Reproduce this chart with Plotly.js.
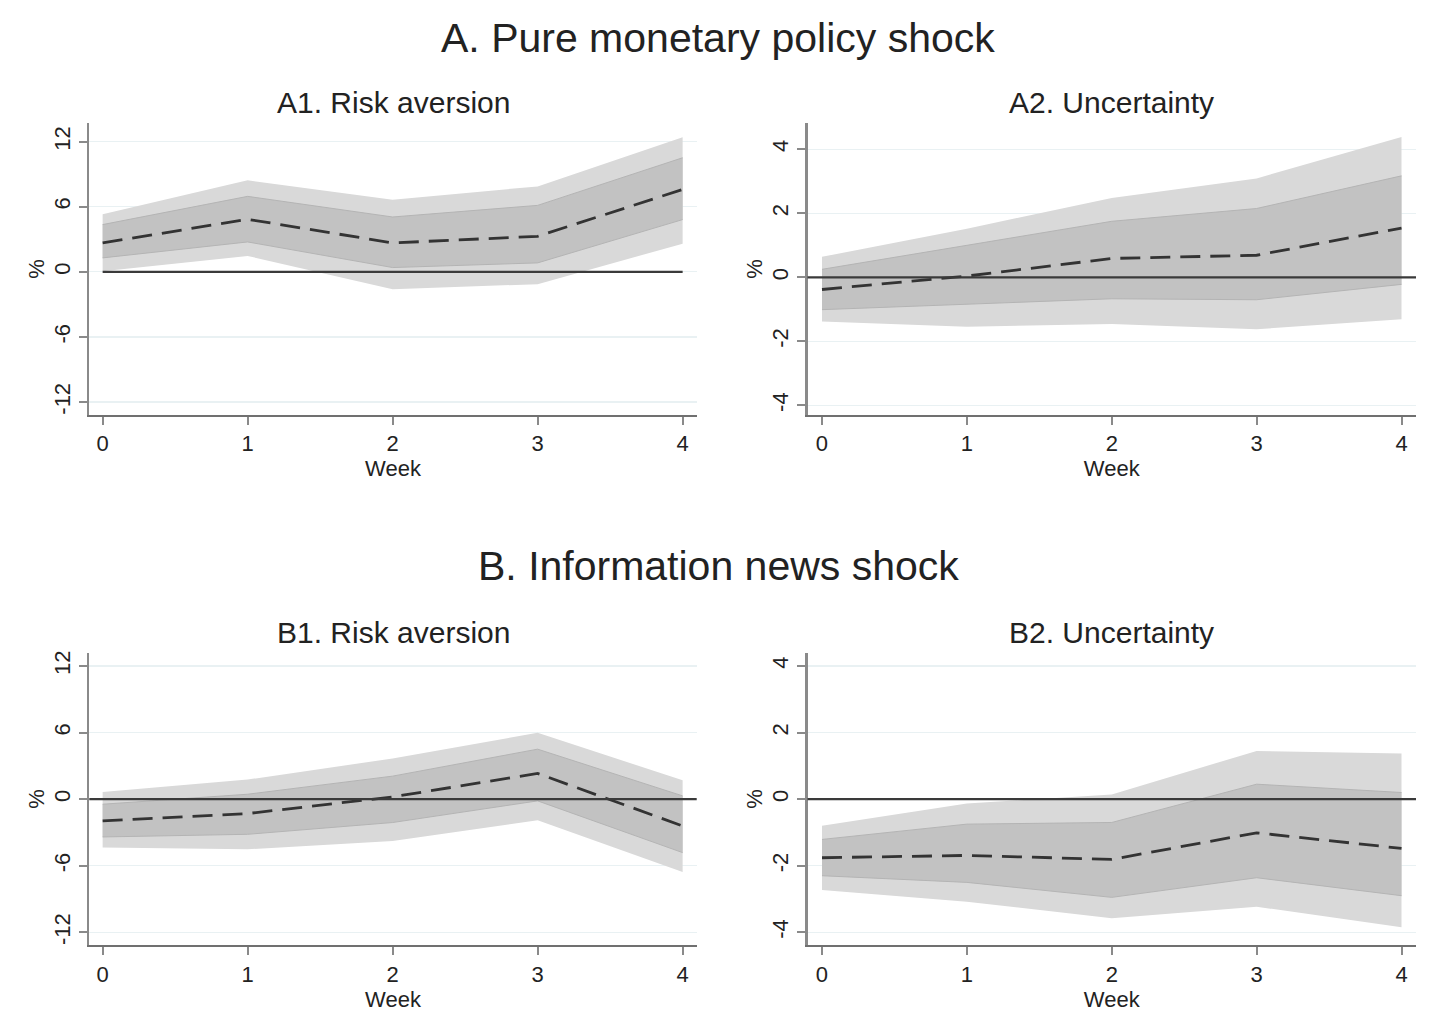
<!DOCTYPE html>
<html>
<head>
<meta charset="utf-8">
<script src="https://cdn.plot.ly/plotly-3.0.1.min.js"></script>
<style>
html,body{margin:0;padding:0;background:#fff;}
#chart{width:1452px;height:1026px;}
</style>
</head>
<body>
<div id="chart"></div>
<script>
// ---- Data ----
const weeks = [0, 1, 2, 3, 4];

// A1. Risk aversion (pure monetary policy shock)
const a1Mean    = [2.67, 4.85, 2.67, 3.28, 7.60];
const a1InnerHi = [4.36, 6.96, 5.06, 6.13, 10.52];
const a1InnerLo = [1.29, 2.76, 0.40, 0.83, 4.82];
const a1OuterHi = [5.31, 8.44, 6.66, 7.88, 12.42];
const a1OuterLo = [0.05, 1.47, -1.60, -1.13, 2.60];

// A2. Uncertainty (pure monetary policy shock)
const a2Mean    = [-0.38, 0.04, 0.59, 0.69, 1.54];
const a2InnerHi = [0.25, 1.01, 1.75, 2.15, 3.17];
const a2InnerLo = [-1.01, -0.83, -0.67, -0.70, -0.22];
const a2OuterHi = [0.64, 1.52, 2.48, 3.09, 4.38];
const a2OuterLo = [-1.38, -1.54, -1.46, -1.62, -1.31];

// B1. Risk aversion (information news shock)
const b1Mean    = [-1.95, -1.29, 0.21, 2.32, -2.41];
const b1InnerHi = [-0.45, 0.45, 2.08, 4.51, 0.30];
const b1InnerLo = [-3.40, -3.16, -2.10, -0.15, -4.81];
const b1OuterHi = [0.66, 1.77, 3.67, 5.98, 1.71];
const b1OuterLo = [-4.36, -4.51, -3.76, -1.89, -6.56];

// B2. Uncertainty (information news shock)
const b2Mean    = [-1.76, -1.69, -1.81, -1.01, -1.48];
const b2InnerHi = [-1.21, -0.75, -0.70, 0.45, 0.20];
const b2InnerLo = [-2.30, -2.50, -2.95, -2.36, -2.90];
const b2OuterHi = [-0.80, -0.13, 0.14, 1.45, 1.37];
const b2OuterLo = [-2.73, -3.08, -3.58, -3.23, -3.85];

const riskTicks = [-12, -6, 0, 6, 12];
const uncTicks  = [-4, -2, 0, 2, 4];

const mainTitles = ["A. Pure monetary policy shock", "B. Information news shock"];
const subTitles  = ["A1. Risk aversion", "A2. Uncertainty", "B1. Risk aversion", "B2. Uncertainty"];
const xTitle = "Week";
const yTitle = "%";

// ---- Styling ----
const FONT = "Liberation Sans, Arial, Helvetica, sans-serif";
const OUTER = "#d9d9d9";
const INNER = "#c2c2c2";

const panels = [
  {ax: "", mean: a1Mean, ih: a1InnerHi, il: a1InnerLo, oh: a1OuterHi, ol: a1OuterLo},
  {ax: "2", mean: a2Mean, ih: a2InnerHi, il: a2InnerLo, oh: a2OuterHi, ol: a2OuterLo},
  {ax: "3", mean: b1Mean, ih: b1InnerHi, il: b1InnerLo, oh: b1OuterHi, ol: b1OuterLo},
  {ax: "4", mean: b2Mean, ih: b2InnerHi, il: b2InnerLo, oh: b2OuterHi, ol: b2OuterLo}
];

const traces = [];
panels.forEach((p, i) => {
  const xa = "x" + p.ax, ya = "y" + p.ax;
  traces.push({x: weeks, y: p.oh, xaxis: xa, yaxis: ya, mode: "lines", line: {width: 0, color: OUTER}, hoverinfo: "skip", showlegend: false});
  traces.push({x: weeks, y: p.ol, xaxis: xa, yaxis: ya, mode: "lines", line: {width: 0, color: OUTER}, fill: "tonexty", fillcolor: OUTER, hoverinfo: "skip", showlegend: false});
  traces.push({x: weeks, y: p.ih, xaxis: xa, yaxis: ya, mode: "lines", line: {width: 1, color: "#b4b4b4"}, hoverinfo: "skip", showlegend: false});
  traces.push({x: weeks, y: p.il, xaxis: xa, yaxis: ya, mode: "lines", line: {width: 1, color: "#b4b4b4"}, fill: "tonexty", fillcolor: INNER, hoverinfo: "skip", showlegend: false});
  if (i === 0) {
    traces.push({x: weeks, y: weeks.map(() => 0), xaxis: xa, yaxis: ya, mode: "lines", line: {width: 2.4, color: "#3a3a3a"}, hoverinfo: "skip", showlegend: false});
  }
  traces.push({x: weeks, y: p.mean, xaxis: xa, yaxis: ya, mode: "lines", line: {width: 2.8, color: "#333333", dash: "20px,10px"}, showlegend: false});
});

function xAxis(domain, range, anchor) {
  return {
    domain: domain, range: range, anchor: anchor,
    tickmode: "array", tickvals: weeks, ticktext: weeks.map(String),
    ticks: "outside", ticklen: 8, tickwidth: 2, tickcolor: "#8a8a8a",
    showline: true, linecolor: "#707070", linewidth: 2,
    showgrid: false, zeroline: false,
    tickfont: {family: FONT, size: 22, color: "#222"},
    title: {text: xTitle, font: {family: FONT, size: 22, color: "#222"}, standoff: 2}
  };
}
function yAxis(domain, range, anchor, ticks) {
  return {
    domain: domain, range: range, anchor: anchor,
    tickmode: "array", tickvals: ticks, ticktext: ticks.map(String),
    tickangle: -90,
    ticks: "outside", ticklen: 8, tickwidth: 2, tickcolor: "#8a8a8a",
    showline: true, linecolor: "#8a8a8a", linewidth: 2.5,
    showgrid: true, gridcolor: "#e9f1f3", gridwidth: 1.2, zeroline: false,
    tickfont: {family: FONT, size: 22, color: "#222"},
    title: {text: yTitle, font: {family: FONT, size: 22, color: "#222"}, standoff: 0}
  };
}

const W = 1452, H = 1026;
const xdL = [89.3 / W, 696.7 / W];
const xdR = [807.5 / W, 1416 / W];
const ydA = [1 - 415 / H, 1 - 122.7 / H];
const ydB = [1 - 945.3 / H, 1 - 652.7 / H];

const zeroShape = (ax) => ({type: "line", xref: "x" + ax + " domain", yref: "y" + ax, x0: 0, x1: 1, y0: 0, y1: 0, line: {color: "#3a3a3a", width: 2.2}, layer: "above"});

const layout = {
  width: W, height: H,
  margin: {l: 0, r: 0, t: 0, b: 0},
  paper_bgcolor: "#fff", plot_bgcolor: "#fff",
  showlegend: false,
  xaxis:  xAxis(xdL, [-0.092, 4.097], "y"),
  yaxis:  yAxis(ydA, [-13.19, 13.75], "x", riskTicks),
  xaxis2: xAxis(xdR, [-0.1, 4.1], "y2"),
  yaxis2: yAxis(ydA, [-4.3, 4.83], "x2", uncTicks),
  xaxis3: xAxis(xdL, [-0.092, 4.097], "y3"),
  yaxis3: yAxis(ydB, [-13.16, 13.2], "x3", riskTicks),
  xaxis4: xAxis(xdR, [-0.1, 4.1], "y4"),
  yaxis4: yAxis(ydB, [-4.39, 4.4], "x4", uncTicks),
  shapes: [zeroShape("2"), zeroShape("3"), zeroShape("4")],
  annotations: [
    {text: mainTitles[0], xref: "paper", yref: "paper", x: 718 / W, y: 1 - 38 / H, xanchor: "center", yanchor: "middle", showarrow: false, font: {family: FONT, size: 41, color: "#222"}},
    {text: mainTitles[1], xref: "paper", yref: "paper", x: 718 / W, y: 1 - 566 / H, xanchor: "center", yanchor: "middle", showarrow: false, font: {family: FONT, size: 41, color: "#222"}},
    {text: subTitles[0], xref: "paper", yref: "paper", x: 393 / W, y: 1 - 103 / H, xanchor: "center", yanchor: "middle", showarrow: false, font: {family: FONT, size: 30, color: "#222"}},
    {text: subTitles[1], xref: "paper", yref: "paper", x: 1111.5 / W, y: 1 - 103 / H, xanchor: "center", yanchor: "middle", showarrow: false, font: {family: FONT, size: 30, color: "#222"}},
    {text: subTitles[2], xref: "paper", yref: "paper", x: 393 / W, y: 1 - 632 / H, xanchor: "center", yanchor: "middle", showarrow: false, font: {family: FONT, size: 30, color: "#222"}},
    {text: subTitles[3], xref: "paper", yref: "paper", x: 1111.5 / W, y: 1 - 632 / H, xanchor: "center", yanchor: "middle", showarrow: false, font: {family: FONT, size: 30, color: "#222"}}
  ]
};

Plotly.newPlot("chart", traces, layout, {displayModeBar: false, staticPlot: true});
</script>
</body>
</html>
